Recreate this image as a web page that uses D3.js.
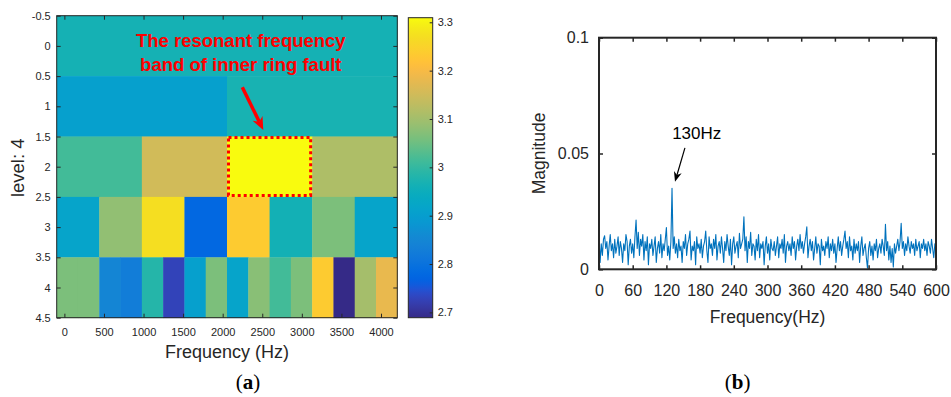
<!DOCTYPE html>
<html><head><meta charset="utf-8">
<script src="https://cdn.jsdelivr.net/npm/d3@7"></script>
<style>
body{margin:0;background:#fff}
text{font-family:"Liberation Sans",Arial,Helvetica,sans-serif}
</style>
</head><body>
<svg id="c" width="951" height="397"></svg>
<script>
// ---------------- DATA ----------------
const levels = [0, 1, 2, 3, 4];
const level0 = [2.965];
const level1 = [2.906, 2.968];
const level2 = [3.014, 3.152, 3.3095, 3.113];
const level3 = [2.916, 3.083, 3.270, 2.778, 3.235, 2.962, 3.063, 2.916];
const level4 = [3.063, 3.063, 2.847, 2.827, 2.984, 2.728, 2.906, 3.063,
                2.916, 3.075, 3.014, 3.063, 3.235, 2.689, 3.103, 3.182];
const bandValues = [level0, level1, level2, level3, level4];
const freqExtent = [-97, 4206];
const xTicksA = [0, 500, 1000, 1500, 2000, 2500, 3000, 3500, 4000];
const yTicksA = [-0.5, 0, 0.5, 1, 1.5, 2, 2.5, 3, 3.5, 4, 4.5];
const colorRange = [2.689, 3.3095];
const cbTicks = [2.7, 2.8, 2.9, 3, 3.1, 3.2, 3.3];
const highlightBand = {level: 2, band: 2};

const specStep = 2; // Hz between spectrum samples
const magnitude = [
0.0140,0.0030,0.0110,0.0060,0.0130,0.0145,0.0090,0.0120,0.0040,0.0100,
0.0150,0.0080,0.0110,0.0050,0.0130,0.0070,0.0100,0.0140,0.0060,0.0120,
0.0090,0.0030,0.0110,0.0080,0.0150,0.0120,0.0020,0.0100,0.0130,0.0070,
0.0110,0.0050,0.0140,0.0213,0.0090,0.0160,0.0060,0.0130,0.0100,0.0150,
0.0040,0.0120,0.0080,0.0140,0.0020,0.0110,0.0090,0.0130,0.0060,0.0100,
0.0140,0.0030,0.0090,0.0120,0.0070,0.0150,0.0050,0.0110,0.0080,0.0130,
0.0180,0.0060,0.0100,0.0040,0.0120,0.0350,0.0090,0.0140,0.0070,0.0110,
0.0050,0.0130,0.0080,0.0100,0.0030,0.0120,0.0090,0.0150,0.0060,0.0110,
0.0130,0.0165,0.0040,0.0100,0.0080,0.0120,0.0020,0.0140,0.0090,0.0110,
0.0070,0.0130,0.0050,0.0100,0.0120,0.0165,0.0080,0.0030,0.0140,0.0090,
0.0110,0.0060,0.0130,0.0090,0.0150,0.0040,0.0100,0.0120,0.0070,0.0140,
0.0090,0.0030,0.0120,0.0080,0.0150,0.0100,0.0060,0.0130,0.0020,0.0110,
0.0140,0.0070,0.0100,0.0120,0.0050,0.0155,0.0090,0.0110,0.0130,0.0227,
0.0080,0.0140,0.0030,0.0120,0.0090,0.0160,0.0060,0.0110,0.0100,0.0040,
0.0130,0.0080,0.0150,0.0050,0.0110,0.0090,0.0120,0.0020,0.0100,0.0140,
0.0070,0.0110,0.0040,0.0130,0.0090,0.0080,0.0120,0.0060,0.0100,0.0140,
0.0050,0.0110,0.0090,0.0130,0.0070,0.0150,0.0030,0.0100,0.0120,0.0080,
0.0110,0.0060,0.0140,0.0090,0.0120,0.0040,0.0100,0.0130,0.0080,0.0150,
0.0090,0.0120,0.0070,0.0110,0.0140,0.0184,0.0050,0.0100,0.0130,0.0080,
0.0120,0.0040,0.0090,0.0140,0.0070,0.0110,0.0100,0.0020,0.0130,0.0080,
0.0100,0.0060,0.0120,0.0090,0.0140,0.0050,0.0110,0.0080,0.0130,0.0070,
0.0110,0.0030,0.0090,0.0140,0.0080,0.0120,0.0060,0.0100,0.0130,0.0165,
0.0090,0.0120,0.0050,0.0140,0.0080,0.0100,0.0040,0.0130,0.0070,0.0110,
0.0080,0.0120,0.0030,0.0100,0.0140,0.0060,0.0090,0.0110,0.0050,0.0005,
0.0090,0.0120,0.0060,0.0100,0.0040,0.0110,0.0080,0.0130,0.0050,0.0090,
0.0110,0.0070,0.0130,0.0100,0.0060,0.0194,0.0080,0.0120,0.0040,0.0100,
0.0030,0.0090,0.0010,0.0110,0.0070,0.0100,0.0130,0.0080,0.0120,0.0199,
0.0090,0.0120,0.0060,0.0110,0.0080,0.0140,0.0100,0.0070,0.0120,0.0090,
0.0110,0.0060,0.0130,0.0080,0.0100,0.0120,0.0050,0.0110,0.0090,0.0130,
0.0080,0.0110,0.0060,0.0120,0.0100,0.0070,0.0130,0.0090,0.0050,0.0110,
0.0100];
const xTicksB = [0, 60, 120, 180, 240, 300, 360, 420, 480, 540, 600];
const yTicksB = [0, 0.05, 0.1];
const peakLabel = "130Hz";

// MATLAB parula colormap (64 entries)
const parula = [
[0.2081,0.1663,0.5292],[0.2116,0.1898,0.5777],[0.2123,0.2138,0.6270],[0.2081,0.2386,0.6771],
[0.1959,0.2645,0.7279],[0.1707,0.2919,0.7792],[0.1253,0.3242,0.8303],[0.0591,0.3598,0.8683],
[0.0117,0.3875,0.8820],[0.0060,0.4086,0.8828],[0.0165,0.4266,0.8786],[0.0329,0.4430,0.8720],
[0.0498,0.4586,0.8641],[0.0629,0.4737,0.8554],[0.0723,0.4887,0.8467],[0.0779,0.5040,0.8384],
[0.0793,0.5200,0.8312],[0.0749,0.5375,0.8263],[0.0641,0.5570,0.8240],[0.0488,0.5772,0.8228],
[0.0343,0.5966,0.8199],[0.0265,0.6137,0.8135],[0.0239,0.6287,0.8038],[0.0231,0.6418,0.7913],
[0.0228,0.6535,0.7768],[0.0267,0.6642,0.7607],[0.0384,0.6743,0.7436],[0.0590,0.6838,0.7254],
[0.0843,0.6928,0.7062],[0.1133,0.7015,0.6859],[0.1453,0.7098,0.6646],[0.1801,0.7177,0.6424],
[0.2178,0.7250,0.6193],[0.2586,0.7317,0.5954],[0.3022,0.7376,0.5712],[0.3482,0.7424,0.5473],
[0.3953,0.7459,0.5244],[0.4420,0.7481,0.5033],[0.4871,0.7491,0.4840],[0.5300,0.7491,0.4661],
[0.5709,0.7485,0.4494],[0.6099,0.7473,0.4337],[0.6473,0.7456,0.4188],[0.6834,0.7435,0.4044],
[0.7184,0.7411,0.3905],[0.7525,0.7384,0.3768],[0.7858,0.7356,0.3633],[0.8185,0.7327,0.3498],
[0.8507,0.7299,0.3360],[0.8824,0.7274,0.3217],[0.9139,0.7258,0.3063],[0.9450,0.7261,0.2886],
[0.9739,0.7314,0.2666],[0.9938,0.7455,0.2403],[0.9990,0.7653,0.2164],[0.9955,0.7861,0.1967],
[0.9880,0.8066,0.1794],[0.9789,0.8271,0.1633],[0.9697,0.8481,0.1475],[0.9626,0.8705,0.1309],
[0.9589,0.8949,0.1132],[0.9598,0.9218,0.0948],[0.9661,0.9514,0.0755],[0.9763,0.9831,0.0538]];

// ---------------- DRAW ----------------
const svg = d3.select('#c');
svg.append('rect').attr('width',951).attr('height',397).attr('fill','#fff');
const txt = '#262626';

// ===== panel (a) =====
const A = {l:56.7, r:397.3, t:15.7, b:317.7};
const xA = d3.scaleLinear().domain(freqExtent).range([A.l, A.r]);
const yA = d3.scaleLinear().domain([-0.5, 4.5]).range([A.t, A.b]);
const cStops = parula.map((_, i) => colorRange[0] + i/(parula.length-1)*(colorRange[1]-colorRange[0]));
const color = d3.scaleLinear().domain(cStops)
  .range(parula.map(c => d3.rgb(c[0]*255, c[1]*255, c[2]*255).toString())).clamp(true);

const gA = svg.append('g');
const cells = [];
bandValues.forEach((vals, li) => {
  const n = vals.length, w = (freqExtent[1]-freqExtent[0])/n;
  vals.forEach((v, j) => cells.push({lev: levels[li], f0: freqExtent[0]+j*w, f1: freqExtent[0]+(j+1)*w, v}));
});
gA.selectAll('rect.cell').data(cells).join('rect')
  .attr('x', d => xA(d.f0)).attr('width', d => xA(d.f1)-xA(d.f0)+0.4)
  .attr('y', d => yA(d.lev-0.5)).attr('height', d => yA(d.lev+0.5)-yA(d.lev-0.5)+0.4)
  .attr('fill', d => color(d.v));

// highlight rectangle
{
  const n = bandValues[highlightBand.level].length, w = (freqExtent[1]-freqExtent[0])/n;
  const f0 = freqExtent[0]+highlightBand.band*w, f1 = f0 + w;
  gA.append('rect')
    .attr('x', xA(f0)+1.5).attr('y', yA(highlightBand.level-0.5)+1)
    .attr('width', xA(f1)-xA(f0)-3).attr('height', yA(highlightBand.level+0.5)-yA(highlightBand.level-0.5)-2.5)
    .attr('fill','none').attr('stroke','#ff0000').attr('stroke-width',3).attr('stroke-dasharray','3,3');
}

function styleAxis(g, fs){
  g.select('.domain').remove();
  g.selectAll('line').attr('stroke', txt);
  g.selectAll('text').attr('fill', txt).style('font-size', fs+'px').style('font-family','"Liberation Sans",Arial,sans-serif');
}
const fmt = v => String(v);
styleAxis(gA.append('g').attr('transform',`translate(0,${A.b})`)
  .call(d3.axisBottom(xA).tickValues(xTicksA).tickSize(-4).tickPadding(10.2).tickFormat(fmt)), 11);
styleAxis(gA.append('g').attr('transform',`translate(0,${A.t})`)
  .call(d3.axisTop(xA).tickValues(xTicksA).tickSize(-4).tickFormat('')), 11);
styleAxis(gA.append('g').attr('transform',`translate(${A.l},0)`)
  .call(d3.axisLeft(yA).tickValues(yTicksA).tickSize(-4).tickPadding(6).tickFormat(fmt)), 11);
styleAxis(gA.append('g').attr('transform',`translate(${A.r},0)`)
  .call(d3.axisRight(yA).tickValues(yTicksA).tickSize(-4).tickFormat('')), 11);
gA.append('rect').attr('x',A.l).attr('y',A.t).attr('width',A.r-A.l).attr('height',A.b-A.t)
  .attr('fill','none').attr('stroke',txt).attr('stroke-width',1);

gA.append('text').attr('x',(A.l+A.r)/2).attr('y',358.3).attr('text-anchor','middle')
  .attr('fill',txt).style('font-size','18px').text('Frequency (Hz)');
gA.append('text').attr('transform',`translate(23.5,167.8) rotate(-90)`).attr('text-anchor','middle')
  .attr('fill',txt).style('font-size','18.5px').text('level: 4');

// annotation
const annoX = 2229;
gA.append('text').attr('x',xA(annoX)).attr('y',yA(0.013)).attr('text-anchor','middle')
  .attr('fill','#ff0000').style('font-size','18.5px').style('font-weight','bold').text('The resonant frequency');
gA.append('text').attr('x',xA(annoX)).attr('y',yA(0.416)).attr('text-anchor','middle')
  .attr('fill','#ff0000').style('font-size','18.5px').style('font-weight','bold').text('band of inner ring fault');

function arrow(g, x1, y1, x2, y2, col, sw, L, W){
  const dx = x2-x1, dy = y2-y1, len = Math.hypot(dx,dy), ux = dx/len, uy = dy/len, nx = -uy, ny = ux;
  const bx = x2-L*ux, by = y2-L*uy, mx = x2-0.7*L*ux, my = y2-0.7*L*uy;
  g.append('line').attr('x1',x1).attr('y1',y1).attr('x2',mx).attr('y2',my)
    .attr('stroke',col).attr('stroke-width',sw);
  g.append('path').attr('d',`M${x2},${y2}L${bx+nx*W/2},${by+ny*W/2}L${mx},${my}L${bx-nx*W/2},${by-ny*W/2}Z`)
    .attr('fill',col);
}
arrow(gA, xA(2248), yA(0.685), xA(2513), yA(1.392), '#ff0000', 3.5, 13, 11);

// colorbar
const CB = {l:408.3, r:432.7, t:17.7, b:317.7};
const yCB = d3.scaleLinear().domain(colorRange).range([CB.b, CB.t]);
const defs = svg.append('defs');
const grad = defs.append('linearGradient').attr('id','cbg').attr('x1',0).attr('y1',1).attr('x2',0).attr('y2',0);
grad.selectAll('stop').data(parula).join('stop')
  .attr('offset',(d,i)=>i/(parula.length-1)).attr('stop-color',(d,i)=>color(cStops[i]));
svg.append('rect').attr('x',CB.l).attr('y',CB.t).attr('width',CB.r-CB.l).attr('height',CB.b-CB.t)
  .attr('fill','url(#cbg)');
styleAxis(svg.append('g').attr('transform',`translate(${CB.r},0)`)
  .call(d3.axisRight(yCB).tickValues(cbTicks).tickSize(-3).tickPadding(5).tickFormat(fmt)), 11);
svg.append('rect').attr('x',CB.l).attr('y',CB.t).attr('width',CB.r-CB.l).attr('height',CB.b-CB.t)
  .attr('fill','none').attr('stroke',txt).attr('stroke-width',1);

// ===== panel (b) =====
const B = {l:599, r:936, t:37.7, b:269.3};
const xB = d3.scaleLinear().domain([0,600]).range([B.l, B.r]);
const yB = d3.scaleLinear().domain([0,0.1]).range([B.b, B.t]);
const gB = svg.append('g');
defs.append('clipPath').attr('id','clipB').append('rect')
  .attr('x',B.l).attr('y',B.t).attr('width',B.r-B.l).attr('height',B.b-B.t);
gB.append('path').datum(magnitude).attr('clip-path','url(#clipB)')
  .attr('d', d3.line().x((d,i)=>xB(i*specStep)).y(d=>yB(d)))
  .attr('fill','none').attr('stroke','#0072BD').attr('stroke-width',1.1).attr('stroke-linejoin','round');

styleAxis(gB.append('g').attr('transform',`translate(0,${B.b})`)
  .call(d3.axisBottom(xB).tickValues(xTicksB).tickSize(-4).tickPadding(15.3).tickFormat(fmt)), 16);
styleAxis(gB.append('g').attr('transform',`translate(0,${B.t})`)
  .call(d3.axisTop(xB).tickValues(xTicksB).tickSize(-4).tickFormat('')), 16);
styleAxis(gB.append('g').attr('transform',`translate(${B.l},0)`)
  .call(d3.axisLeft(yB).tickValues(yTicksB).tickSize(-4).tickPadding(10).tickFormat(fmt)), 16);
styleAxis(gB.append('g').attr('transform',`translate(${B.r},0)`)
  .call(d3.axisRight(yB).tickValues(yTicksB).tickSize(-4).tickFormat('')), 16);
gB.selectAll('g.tick line').attr('stroke-width',1.5);
gB.append('rect').attr('x',B.l).attr('y',B.t).attr('width',B.r-B.l).attr('height',B.b-B.t)
  .attr('fill','none').attr('stroke',txt).attr('stroke-width',2);

gB.append('text').attr('x',(B.l+B.r)/2).attr('y',322.5).attr('text-anchor','middle')
  .attr('fill',txt).style('font-size','17.5px').text('Frequency(Hz)');
gB.append('text').attr('transform',`translate(545,${(B.t+B.b)/2}) rotate(-90)`).attr('text-anchor','middle')
  .attr('fill',txt).style('font-size','17.5px').text('Magnitude');

gB.append('text').attr('x',xB(174)).attr('y',yB(0.0563)).attr('text-anchor','middle')
  .attr('fill','#000').style('font-size','17px').text(peakLabel);
arrow(gB, xB(153), yB(0.0524), xB(135.3), yB(0.0378), '#000', 1.2, 10, 8);

// panel labels
function panelLabel(x, letter){
  const t = svg.append('text').attr('x',x).attr('y',389).attr('text-anchor','middle')
    .attr('fill','#000').style('font-family','"Liberation Serif","Times New Roman",serif').style('font-size','21px');
  t.append('tspan').text('(');
  t.append('tspan').style('font-weight','bold').text(letter);
  t.append('tspan').text(')');
}
panelLabel(248, 'a');
panelLabel(737.7, 'b');
</script>
</body></html>
